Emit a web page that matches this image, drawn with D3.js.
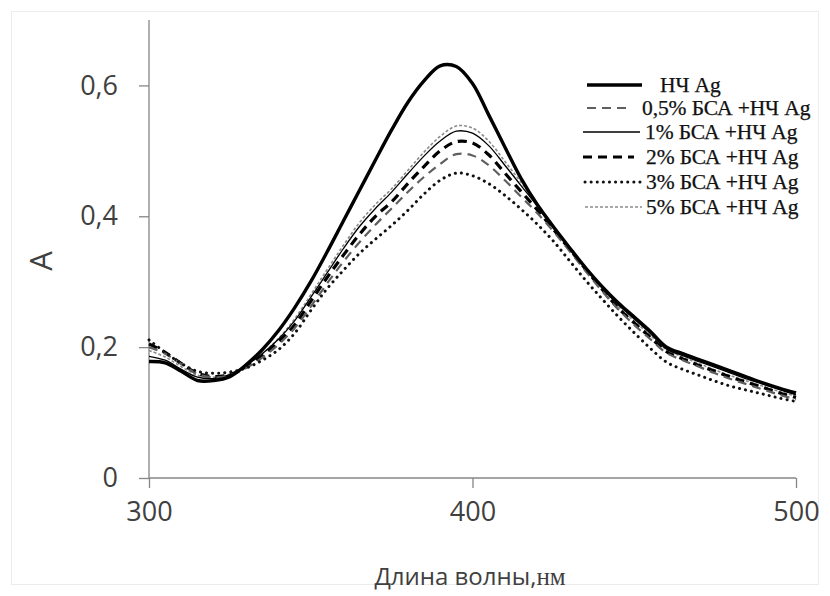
<!DOCTYPE html>
<html>
<head>
<meta charset="utf-8">
<script src="https://cdn.jsdelivr.net/npm/d3@7/dist/d3.min.js"></script>
<style>
  html, body { margin: 0; padding: 0; background: #fff; }
  svg { display: block; }
</style>
</head>
<body>
<svg id="chart" width="830" height="596"></svg>
<script>
const wavelengths = [300,305,310,315,320,325,330,335,340,345,350,355,360,365,370,375,380,385,390,395,400,405,410,415,420,425,430,435,440,445,450,455,460,465,470,475,480,485,490,495,500];

const agNP   = [.178,.176,.163,.149,.149,.155,.173,.196,.225,.260,.300,.345,.392,.439,.486,.532,.574,.607,.630,.629,.603,.555,.506,.458,.418,.384,.352,.321,.293,.268,.246,.224,.200,.190,.181,.172,.163,.154,.145,.137,.130];
const bsa05  = [.200,.190,.174,.159,.154,.157,.168,.184,.204,.229,.262,.297,.330,.360,.387,.412,.437,.460,.480,.495,.493,.478,.455,.430,.405,.377,.347,.316,.286,.258,.234,.212,.191,.180,.170,.160,.151,.143,.135,.127,.120];
const bsa1   = [.186,.180,.166,.154,.152,.158,.172,.190,.212,.240,.276,.313,.350,.384,.412,.437,.465,.492,.515,.530,.527,.508,.478,.447,.416,.385,.353,.322,.291,.265,.243,.221,.197,.187,.178,.169,.160,.151,.143,.135,.127];
const bsa2   = [.205,.192,.175,.160,.155,.158,.170,.187,.208,.234,.270,.306,.340,.372,.400,.422,.450,.476,.500,.514,.512,.494,.466,.438,.410,.380,.350,.319,.289,.260,.237,.215,.193,.182,.172,.163,.154,.146,.138,.130,.123];
const bsa3   = [.211,.192,.175,.163,.160,.162,.168,.180,.196,.221,.256,.289,.317,.343,.365,.386,.409,.434,.455,.466,.462,.450,.432,.411,.388,.362,.332,.302,.274,.247,.222,.198,.177,.166,.157,.148,.140,.134,.128,.122,.117];
const bsa5   = [.195,.185,.170,.157,.154,.159,.172,.190,.213,.243,.280,.318,.355,.390,.418,.442,.470,.498,.522,.538,.535,.515,.484,.452,.419,.386,.352,.320,.289,.262,.240,.218,.196,.185,.175,.165,.156,.148,.140,.132,.125];

const seriesNames = ["НЧ Ag", "0,5% БСА +НЧ Ag", "1% БСА +НЧ Ag", "2% БСА +НЧ Ag", "3% БСА +НЧ Ag", "5% БСА +НЧ Ag"];
const seriesValues = [agNP, bsa05, bsa1, bsa2, bsa3, bsa5];

const xTicks = [300, 400, 500];
const yTicks = [0, 0.2, 0.4, 0.6];
const yTickLabels = ["0", "0,2", "0,4", "0,6"];
const xTitle = "Длина волны,";
const xTitleUnit = "нм";
const yTitle = "A";

const styles = [
  {stroke: "#000", width: 3.4, dash: null, cap: "butt"},
  {stroke: "#5f5f5f", width: 2.2, dash: "9,6", cap: "butt"},
  {stroke: "#000", width: 1.3, dash: null, cap: "butt"},
  {stroke: "#000", width: 3.2, dash: "9,6", cap: "butt"},
  {stroke: "#111", width: 3.0, dash: "0.1,6", cap: "round"},
  {stroke: "#8a8a8a", width: 1.6, dash: "3,2", cap: "butt"}
];

const svg = d3.select("#chart");

// faint outer border
svg.append("rect").attr("x", 11.5).attr("y", 11.5).attr("width", 807).attr("height", 573)
  .attr("fill", "none").attr("stroke", "#ececec").attr("stroke-width", 1);

const x = d3.scaleLinear().domain([300, 500]).range([149, 796]);
const y = d3.scaleLinear().domain([0, 0.7]).range([478, 20]);

const axisColor = "#868686";
const labelColor = "#404040";
const sansFont = "'Open Sans', 'Noto Sans', sans-serif";
const serifFont = "'Liberation Serif', 'Times New Roman', serif";

// y axis
const yAxis = svg.append("g").attr("transform", "translate(149,0)")
  .call(d3.axisLeft(y).tickValues(yTicks).tickSize(10).tickFormat((d, i) => yTickLabels[i]).tickPadding(21));
yAxis.select(".domain").attr("d", `M0,${y(0.7)}V${y(0)}`).attr("stroke", axisColor).attr("stroke-width", 1.3);
yAxis.selectAll(".tick line").attr("stroke", axisColor).attr("stroke-width", 1.3);
yAxis.selectAll(".tick text").attr("fill", labelColor).attr("font-family", sansFont).attr("font-size", 27);

// x axis
const xAxis = svg.append("g").attr("transform", `translate(0,${y(0)})`)
  .call(d3.axisBottom(x).tickValues(xTicks).tickSize(10).tickFormat(d3.format("d")).tickPadding(14));
xAxis.select(".domain").attr("d", `M${x(300)},0H${x(500)}`).attr("stroke", axisColor).attr("stroke-width", 1.3);
xAxis.selectAll(".tick line").attr("stroke", axisColor).attr("stroke-width", 1.3);
xAxis.selectAll(".tick text").attr("fill", labelColor).attr("font-family", sansFont).attr("font-size", 27);

// series
const line = d3.line()
  .x((d, i) => x(wavelengths[i]))
  .y(d => y(d))
  .curve(d3.curveCatmullRom.alpha(0.5));

const order = [5, 2, 3, 1, 4, 0];
order.forEach(k => {
  const s = styles[k];
  svg.append("path")
    .datum(seriesValues[k])
    .attr("d", line)
    .attr("fill", "none")
    .attr("stroke", s.stroke)
    .attr("stroke-width", s.width)
    .attr("stroke-dasharray", s.dash)
    .attr("stroke-linecap", s.cap)
    .attr("stroke-linejoin", "round");
});

// axis titles
const xt = svg.append("text").attr("x", 470).attr("y", 585).attr("text-anchor", "middle")
  .attr("fill", labelColor).attr("font-family", sansFont).attr("font-size", 24);
xt.append("tspan").text(xTitle);
xt.append("tspan").attr("font-family", serifFont).attr("font-size", 25).text(xTitleUnit);

svg.append("text").attr("transform", "translate(52,261) rotate(-90)").attr("text-anchor", "middle")
  .attr("fill", labelColor).attr("font-family", sansFont).attr("font-size", 31).text(yTitle);

// legend
const legendRows = [85, 108, 132, 157, 182, 207];
const legendTextX = [660, 642, 645, 646, 646, 646];
const legendLineX = [[587, 642], [587, 632], [583, 640], [583, 634], [585, 642], [585, 642]];
seriesNames.forEach((name, k) => {
  const s = styles[k];
  svg.append("line")
    .attr("x1", legendLineX[k][0]).attr("x2", legendLineX[k][1])
    .attr("y1", legendRows[k]).attr("y2", legendRows[k])
    .attr("stroke", s.stroke).attr("stroke-width", s.width)
    .attr("stroke-dasharray", s.dash).attr("stroke-linecap", s.cap);
  svg.append("text").attr("x", legendTextX[k]).attr("y", legendRows[k] + 7)
    .attr("font-family", serifFont)
    .attr("font-size", 21.5).attr("letter-spacing", -0.1).attr("fill", "#111")
    .attr("stroke", "#111").attr("stroke-width", 0.25)
    .text(name);
});
</script>
</body>
</html>
